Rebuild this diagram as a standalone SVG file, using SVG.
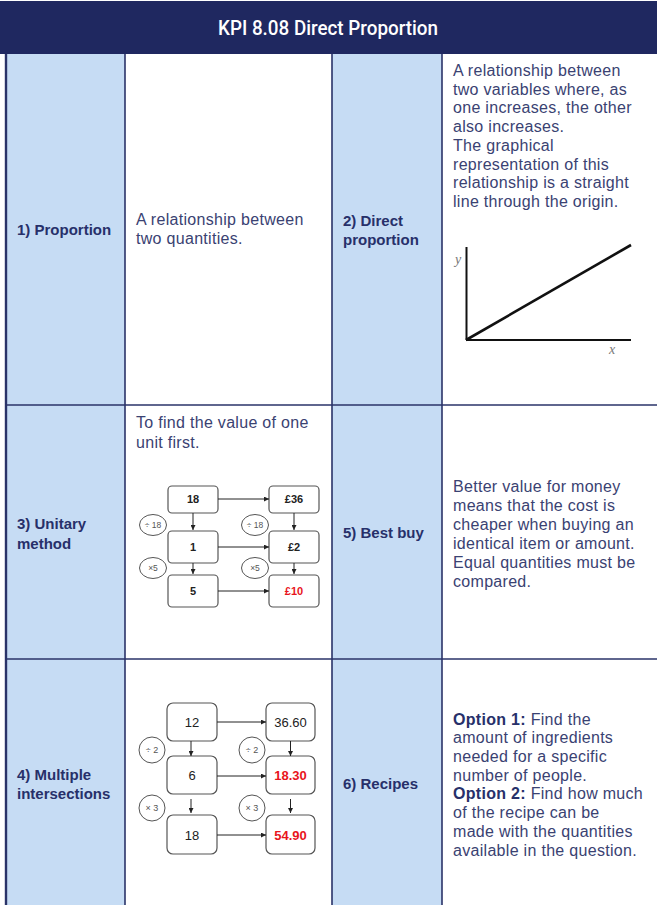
<svg xmlns="http://www.w3.org/2000/svg" width="657" height="905" viewBox="0 0 657 905">
<style>
.lbl{font-family:"Liberation Sans",Arial,sans-serif;font-weight:bold;font-size:15px;fill:#27306a}
.txt{font-family:"Liberation Sans",Arial,sans-serif;font-size:16px;letter-spacing:0.3px;fill:#3a4272}
.grid{stroke:#2a3368;stroke-width:1.6;fill:none}
.box{fill:#fff;stroke:#555;stroke-width:1.2}
.ell{fill:#fff;stroke:#555;stroke-width:1}
.bt{font-family:"Liberation Sans",Arial,sans-serif;font-weight:bold;font-size:11px;fill:#222;text-anchor:middle}
.bt2{font-family:"Liberation Sans",Arial,sans-serif;font-size:13px;fill:#222;text-anchor:middle}
.et{font-family:"Liberation Sans",Arial,sans-serif;font-size:8.5px;fill:#555;text-anchor:middle}
.red{fill:#e8141c;font-weight:bold}
.arr{stroke:#222;stroke-width:1;fill:none;marker-end:url(#ah)}
</style>
<defs>
<marker id="ah" viewBox="0 0 6 6" refX="6" refY="3" markerWidth="5" markerHeight="5" orient="auto" markerUnits="userSpaceOnUse"><path d="M0,0 L6,3 L0,6 z" fill="#222"/></marker>
</defs>
<rect x="0" y="0" width="657" height="905" fill="#fff"/>
<g id="header">
<rect x="0" y="1" width="657" height="53" fill="#1f2860"/>
<text x="328" y="35" text-anchor="middle" font-family="Roboto,'Liberation Sans',sans-serif" font-weight="500" font-size="21" fill="#fff" textLength="220" lengthAdjust="spacingAndGlyphs">KPI 8.08 Direct Proportion</text>
</g>
<g id="grid">
<rect x="6" y="54" width="119" height="851" fill="#c6dcf4"/>
<rect x="332" y="54" width="110" height="851" fill="#c6dcf4"/>
<line class="grid" x1="6" y1="54" x2="6" y2="905" style="stroke-width:2.4"/>
<line class="grid" x1="125" y1="54" x2="125" y2="905"/>
<line class="grid" x1="332" y1="54" x2="332" y2="905"/>
<line class="grid" x1="442" y1="54" x2="442" y2="905"/>
<line class="grid" x1="6" y1="405" x2="657" y2="405"/>
<line class="grid" x1="6" y1="659" x2="657" y2="659"/>
</g>
<g id="proportion">
<text class="lbl" x="17" y="235">1) Proportion</text>
<text class="txt" x="136" y="225">A relationship between</text>
<text class="txt" x="136" y="244">two quantities.</text>
</g>
<g id="direct-proportion">
<text class="lbl" x="343" y="226">2) Direct</text>
<text class="lbl" x="343" y="245">proportion</text>
<text class="txt" x="453" y="76">A relationship between</text>
<text class="txt" x="453" y="94.7">two variables where, as</text>
<text class="txt" x="453" y="113.4">one increases, the other</text>
<text class="txt" x="453" y="132.1">also increases.</text>
<text class="txt" x="453" y="150.8">The graphical</text>
<text class="txt" x="453" y="169.5">representation of this</text>
<text class="txt" x="453" y="188.2">relationship is a straight</text>
<text class="txt" x="453" y="206.9">line through the origin.</text>
<g id="graph">
<line x1="466.5" y1="247" x2="466.5" y2="340" stroke="#111" stroke-width="2"/>
<line x1="466" y1="340" x2="631" y2="340" stroke="#111" stroke-width="2"/>
<line x1="466" y1="340" x2="631" y2="245" stroke="#111" stroke-width="2.6"/>
<text x="455" y="264" font-family="'Liberation Serif',serif" font-style="italic" font-size="14" fill="#777">y</text>
<text x="609" y="354" font-family="'Liberation Serif',serif" font-style="italic" font-size="14" fill="#777">x</text>
</g>
</g>
<g id="unitary-method">
<text class="lbl" x="17" y="529">3) Unitary</text>
<text class="lbl" x="17" y="549">method</text>
<text class="txt" x="136" y="428">To find the value of one</text>
<text class="txt" x="136" y="448">unit first.</text>
<g id="u-boxes">
<rect class="box" x="168" y="486" width="50" height="27" rx="4"/>
<rect class="box" x="269" y="486" width="50" height="27" rx="4"/>
<rect class="box" x="168" y="531" width="50" height="32" rx="4"/>
<rect class="box" x="269" y="531" width="50" height="32" rx="4"/>
<rect class="box" x="168" y="575" width="50" height="32" rx="4"/>
<rect class="box" x="269" y="575" width="50" height="32" rx="4"/>
<text class="bt" x="193" y="503">18</text>
<text class="bt" x="294" y="503">£36</text>
<text class="bt" x="193" y="551">1</text>
<text class="bt" x="294" y="551">£2</text>
<text class="bt" x="193" y="595">5</text>
<text class="bt red" x="294" y="595">£10</text>
<ellipse class="ell" cx="153" cy="525" rx="13.5" ry="10.5"/>
<ellipse class="ell" cx="255" cy="525" rx="13.5" ry="10.5"/>
<ellipse class="ell" cx="153" cy="568" rx="13.5" ry="10.5"/>
<ellipse class="ell" cx="255" cy="568" rx="13.5" ry="10.5"/>
<text class="et" x="153" y="528">÷ 18</text>
<text class="et" x="255" y="528">÷ 18</text>
<text class="et" x="153" y="571">×5</text>
<text class="et" x="255" y="571">×5</text>
</g>
</g>
<g id="multiple-intersections">
<text class="lbl" x="17" y="780">4) Multiple</text>
<text class="lbl" x="17" y="799">intersections</text>
<g id="m-boxes">
<rect class="box" x="167" y="703" width="50" height="38" rx="6"/>
<rect class="box" x="266" y="703" width="49" height="38" rx="6"/>
<rect class="box" x="167" y="756" width="50" height="38" rx="6"/>
<rect class="box" x="266" y="756" width="49" height="38" rx="6"/>
<rect class="box" x="167" y="815" width="50" height="39" rx="6"/>
<rect class="box" x="266" y="815" width="49" height="39" rx="6"/>
<text class="bt2" x="192" y="726.5">12</text>
<text class="bt2" x="290.5" y="726.5">36.60</text>
<text class="bt2" x="192" y="780">6</text>
<text class="bt2 red" x="290.5" y="780">18.30</text>
<text class="bt2" x="192" y="839.5">18</text>
<text class="bt2 red" x="290.5" y="839.5">54.90</text>
<circle class="ell" cx="152" cy="750" r="13"/>
<circle class="ell" cx="252" cy="750" r="13"/>
<circle class="ell" cx="152" cy="808" r="13"/>
<circle class="ell" cx="252" cy="808" r="13"/>
<text class="et" x="152" y="753" style="font-size:9px">÷ 2</text>
<text class="et" x="252" y="753" style="font-size:9px">÷ 2</text>
<text class="et" x="152" y="811" style="font-size:9px">× 3</text>
<text class="et" x="252" y="811" style="font-size:9px">× 3</text>
</g>
</g>
<g id="connectors">
<line class="arr" x1="218" y1="499" x2="269" y2="499"/>
<line class="arr" x1="218" y1="547" x2="269" y2="547"/>
<line class="arr" x1="218" y1="591" x2="269" y2="591"/>
<line class="arr" x1="193" y1="513" x2="193" y2="530"/>
<line class="arr" x1="294" y1="513" x2="294" y2="530"/>
<line class="arr" x1="193" y1="563" x2="193" y2="574"/>
<line class="arr" x1="294" y1="563" x2="294" y2="574"/>
<line class="arr" x1="217" y1="722" x2="266" y2="722"/>
<line class="arr" x1="217" y1="776" x2="266" y2="776"/>
<line class="arr" x1="217" y1="835" x2="266" y2="835"/>
<line class="arr" x1="191" y1="741" x2="191" y2="756"/>
<line class="arr" x1="290.5" y1="741" x2="290.5" y2="756"/>
<line class="arr" x1="191" y1="799" x2="191" y2="813"/>
<line class="arr" x1="290.5" y1="799" x2="290.5" y2="813"/>
</g>
<g id="best-buy">
<text class="lbl" x="343" y="538">5) Best buy</text>
<text class="txt" x="453" y="492">Better value for money</text>
<text class="txt" x="453" y="511">means that the cost is</text>
<text class="txt" x="453" y="530">cheaper when buying an</text>
<text class="txt" x="453" y="548.5">identical item or amount.</text>
<text class="txt" x="453" y="567.5">Equal quantities must be</text>
<text class="txt" x="453" y="586.5">compared.</text>
</g>
<g id="recipes">
<text class="lbl" x="343" y="789">6) Recipes</text>
<text class="txt" x="453" y="724.5"><tspan font-weight="bold" fill="#27306a">Option 1:</tspan> Find the</text>
<text class="txt" x="453" y="743">amount of ingredients</text>
<text class="txt" x="453" y="762">needed for a specific</text>
<text class="txt" x="453" y="780.5">number of people.</text>
<text class="txt" x="453" y="799"><tspan font-weight="bold" fill="#27306a">Option 2:</tspan> Find how much</text>
<text class="txt" x="453" y="818">of the recipe can be</text>
<text class="txt" x="453" y="836.5">made with the quantities</text>
<text class="txt" x="453" y="855.5">available in the question.</text>
</g>
</svg>
